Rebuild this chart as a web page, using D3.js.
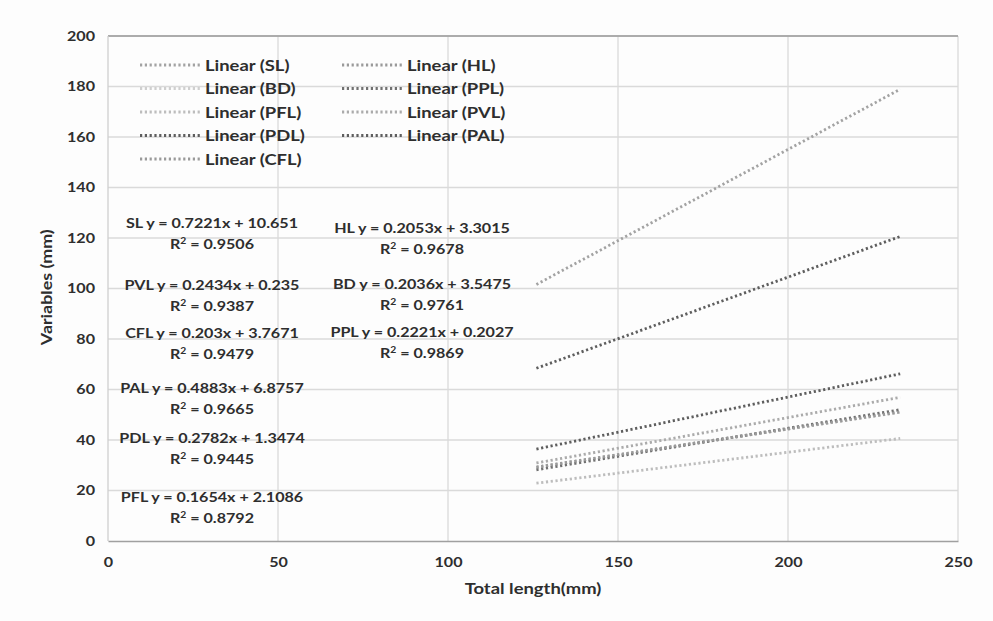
<!DOCTYPE html>
<html>
<head>
<meta charset="utf-8">
<script src="https://cdn.jsdelivr.net/npm/d3@7"></script>
<style>
  body { margin: 0; background: #fff; }
  svg text { font-family: Lato, "Open Sans", sans-serif; fill: #2e2e2e; font-weight: 700; }
</style>
</head>
<body>
<div id="chart"></div>
<script>
// Series (Excel linear trendlines)
const seriesNames = ['SL', 'HL', 'BD', 'PPL', 'PFL', 'PVL', 'PDL', 'PAL', 'CFL'];
const xRange = [126, 233];
const yStart = [101.6, 29.2, 29.2, 28.2, 22.9, 30.9, 36.4, 68.4, 29.3];
const yEnd = [178.9, 51.1, 51.0, 52.0, 40.6, 56.9, 66.2, 120.6, 51.1];
const eqLabels = [
	'SL y = 0.7221x + 10.651', 'HL y = 0.2053x + 3.3015', 'BD y = 0.2036x + 3.5475',
	'PPL y = 0.2221x + 0.2027', 'PFL y = 0.1654x + 2.1086', 'PVL y = 0.2434x + 0.235',
	'PDL y = 0.2782x + 1.3474', 'PAL y = 0.4883x + 6.8757', 'CFL y = 0.203x + 3.7671'
];
const r2Labels = ['0.9506', '0.9678', '0.9761', '0.9869', '0.8792', '0.9387', '0.9445', '0.9665', '0.9479'];
const xTicks = [0, 50, 100, 150, 200, 250];
const yTicks = [0, 20, 40, 60, 80, 100, 120, 140, 160, 180, 200];

// styles / layout
const colors = ['#a3a3a3', '#9a9a9a', '#cfcfcf', '#707070', '#bdbdbd', '#ababab', '#5e5e5e', '#5e5e5e', '#9a9a9a'];
// equation label anchors (px inside plot): [cx, baseline of equation]
const eqPos = [[104, 192], [314, 197], [314, 253], [314, 301], [104, 466], [104, 254], [104, 407], [104, 357], [104, 302]];
const stretch = 1.15;

const W = 993, H = 621;
const m = { top: 36, right: 35, bottom: 80, left: 108 };
const width = W - m.left - m.right;
const height = H - m.top - m.bottom;

const svg = d3.select('#chart').append('svg').attr('width', W).attr('height', H);
svg.append('rect').attr('width', W).attr('height', H).attr('fill', '#fdfdfd');

const x = d3.scaleLinear().domain([0, 250]).range([0, width]);
const y = d3.scaleLinear().domain([0, 200]).range([height, 0]);

const chart = svg.append('g').attr('transform', 'translate(' + m.left + ',' + m.top + ')');

// grid
chart.append('g').selectAll('line').data(yTicks.slice(1)).enter().append('line')
	.attr('x1', 0).attr('x2', width)
	.attr('y1', d => y(d)).attr('y2', d => y(d))
	.attr('stroke', '#dadada').attr('stroke-width', 1.3);
chart.append('g').selectAll('line').data(xTicks.slice(1)).enter().append('line')
	.attr('x1', d => x(d)).attr('x2', d => x(d))
	.attr('y1', 0).attr('y2', height)
	.attr('stroke', '#dadada').attr('stroke-width', 1.3);
chart.append('line').attr('x1', 0).attr('x2', width).attr('y1', 0).attr('y2', 0)
	.attr('stroke', '#9a9a9a').attr('stroke-width', 1.5);
chart.append('line').attr('x1', 0).attr('x2', 0).attr('y1', 0).attr('y2', height)
	.attr('stroke', '#d0d0d0').attr('stroke-width', 1.3);

// axes
const xAxis = d3.axisBottom(x).tickValues(xTicks).tickSize(0).tickPadding(16);
const yAxis = d3.axisLeft(y).tickValues(yTicks).tickSize(0).tickPadding(13);
const aX = chart.append('g').attr('transform', 'translate(0,' + height + ')').call(xAxis);
aX.select('.domain').attr('stroke', '#a0a0a0').attr('stroke-width', 1.5);
aX.selectAll('text').style('font-size', '14px').attr('fill', '#2e2e2e');
const aY = chart.append('g').call(yAxis);
aY.select('.domain').remove();
aY.selectAll('text').style('font-size', '14px').attr('fill', '#2e2e2e');

svg.append('text').attr('x', m.left + x(125)).attr('y', 594).attr('text-anchor', 'middle')
	.style('font-size', '16px').text('Total length(mm)');
svg.append('text').attr('transform', 'translate(52,' + (m.top + y(100.5)) + ') rotate(-90)')
	.attr('text-anchor', 'middle').style('font-size', '15.5px').text('Variables (mm)');

// trendlines
const lines = seriesNames.map((n, i) => ({ name: n, pts: [[xRange[0], yStart[i]], [xRange[1], yEnd[i]]] }));
const line = d3.line().x(d => x(d[0])).y(d => y(d[1]));
chart.append('g').selectAll('path').data(lines).enter().append('path')
	.attr('d', d => line(d.pts))
	.attr('fill', 'none')
	.attr('stroke', (d, i) => colors[i])
	.attr('stroke-width', 2.8)
	.attr('stroke-dasharray', '2.2,2.6');

// equations
const eq = chart.append('g').selectAll('g').data(seriesNames).enter().append('g')
	.attr('transform', (d, i) => 'translate(' + eqPos[i][0] + ',' + eqPos[i][1] + ')');
eq.append('text').attr('text-anchor', 'middle').style('font-size', '14px')
	.text((d, i) => eqLabels[i]);
const r2 = eq.append('text').attr('text-anchor', 'middle').attr('y', 21).style('font-size', '14px');
r2.append('tspan').text('R');
r2.append('tspan').attr('dy', -5).style('font-size', '9px').text('2');
r2.append('tspan').attr('dy', 5).text((d, i) => ' = ' + r2Labels[i]);

// legend
const legend = chart.append('g').attr('transform', 'translate(32,29)');
const li = legend.selectAll('g').data(seriesNames).enter().append('g')
	.attr('transform', (d, i) => 'translate(' + (i % 2) * 202 + ',' + Math.floor(i / 2) * 23.5 + ')');
li.append('line').attr('x1', 0).attr('x2', 60).attr('y1', 0).attr('y2', 0)
	.attr('stroke', (d, i) => colors[i]).attr('stroke-width', 2.8).attr('stroke-dasharray', '2.2,2.6');
li.append('text').attr('x', 65).attr('y', 5.5).style('font-size', '16px')
	.text(d => 'Linear (' + d + ')');

// source font is a bit wider than Lato: stretch glyphs horizontally
svg.selectAll('text').each(function () {
	const len = this.getComputedTextLength();
	d3.select(this).attr('textLength', len * stretch).attr('lengthAdjust', 'spacingAndGlyphs');
});
</script>
</body>
</html>
